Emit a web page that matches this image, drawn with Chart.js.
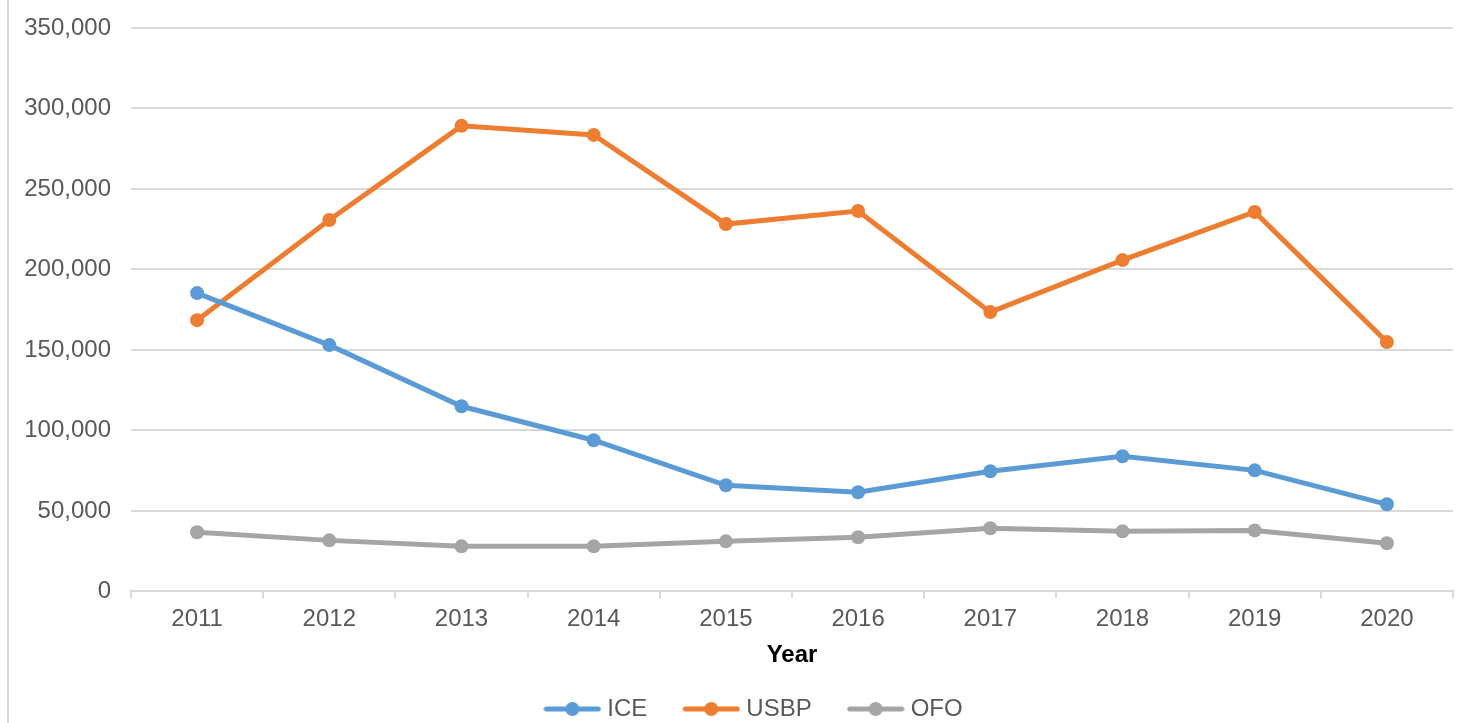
<!DOCTYPE html>
<html>
<head>
<meta charset="utf-8">
<script src="https://cdn.jsdelivr.net/npm/chart.js@4.4.1/dist/chart.umd.min.js"></script>
<style>
  html, body { margin: 0; padding: 0; background: #fff; }
  #wrap { position: absolute; left: 7px; top: 0; width: 1466px; height: 723px; border-left: 2px solid #d9d9d9; }
  canvas { display: block; }
</style>
</head>
<body>
<div id="wrap"><canvas id="lineChart" width="1464" height="723"></canvas></div>
<script>
const years = ['2011', '2012', '2013', '2014', '2015', '2016', '2017', '2018', '2019', '2020'];
const iceValues = [185300, 153000, 115000, 93900, 65900, 61600, 74600, 84000, 75200, 54100];
const usbpValues = [168500, 230700, 289200, 283600, 228200, 236300, 173500, 205800, 235700, 154900];
const ofoValues = [36700, 31700, 28000, 28000, 31100, 33600, 39200, 37300, 37900, 29900];

const textColor = '#595959';
const gridColor = '#d9d9d9';

// legend marker: short line with a dot, like the office style legend
function legendMarker(color) {
    const c = document.createElement('canvas');
    c.width = 58;
    c.height = 16;
    const g = c.getContext('2d');
    g.strokeStyle = color;
    g.lineWidth = 5;
    g.lineCap = 'round';
    g.beginPath();
    g.moveTo(3, 8);
    g.lineTo(55, 8);
    g.stroke();
    g.fillStyle = color;
    g.beginPath();
    g.arc(29, 8, 7, 0, Math.PI * 2);
    g.fill();
    return c;
}

function series(label, data, color) {
    return {
        label: label,
        data: data,
        borderColor: color,
        backgroundColor: color,
        borderWidth: 5,
        pointRadius: 7,
        pointHoverRadius: 7,
        pointBackgroundColor: color,
        pointBorderWidth: 0,
        tension: 0,
        markerImg: legendMarker(color)
    };
}

// legend sits a little right of centre in the original
const legendShift = {
    id: 'legendShift',
    afterLayout(chart) {
        chart.legend.left += 25;
        chart.legend.right += 25;
    }
};

const ctx = document.getElementById('lineChart').getContext('2d');
const lineChart = new Chart(ctx, {
    type: 'line',
    data: {
        labels: years,
        datasets: [
            series('ICE', iceValues, '#5b9bd5'),
            series('USBP', usbpValues, '#ed7d31'),
            series('OFO', ofoValues, '#a5a5a5')
        ]
    },
    options: {
        responsive: false,
        animation: false,
        layout: { padding: { top: 0, right: 20, bottom: -8, left: 0 } },
        scales: {
            x: {
                offset: true,
                grid: {
                    offset: true,
                    drawOnChartArea: false,
                    drawTicks: true,
                    tickLength: 7,
                    color: gridColor,
                    lineWidth: 2
                },
                border: { color: gridColor, width: 2 },
                ticks: { color: textColor, font: { family: 'Liberation Sans', size: 24 }, padding: 7 },
                title: {
                    display: true,
                    text: 'Year',
                    color: '#000',
                    font: { family: 'Liberation Sans', size: 24, weight: 'bold' },
                    padding: { top: 0, bottom: -14 }
                }
            },
            y: {
                min: 0,
                max: 350000,
                ticks: {
                    stepSize: 50000,
                    color: textColor,
                    font: { family: 'Liberation Sans', size: 24 },
                    padding: 20,
                    callback: v => v.toLocaleString('en-US')
                },
                grid: { color: gridColor, lineWidth: 2, drawTicks: false },
                border: { display: false },
                afterFit: scale => {
                    scale.width = 122;
                    scale.paddingTop = 28;
                }
            }
        },
        plugins: {
            legend: {
                position: 'bottom',
                labels: {
                    color: textColor,
                    font: { family: 'Liberation Sans', size: 24 },
                    usePointStyle: true,
                    pointStyleWidth: 46,
                    padding: 41,
                    generateLabels: chart => chart.data.datasets.map((ds, i) => ({
                        text: ds.label,
                        fillStyle: ds.borderColor,
                        strokeStyle: ds.borderColor,
                        fontColor: textColor,
                        pointStyle: ds.markerImg,
                        lineWidth: 0,
                        datasetIndex: i
                    }))
                }
            },
            tooltip: { enabled: false }
        }
    },
    plugins: [legendShift]
});
</script>
</body>
</html>
